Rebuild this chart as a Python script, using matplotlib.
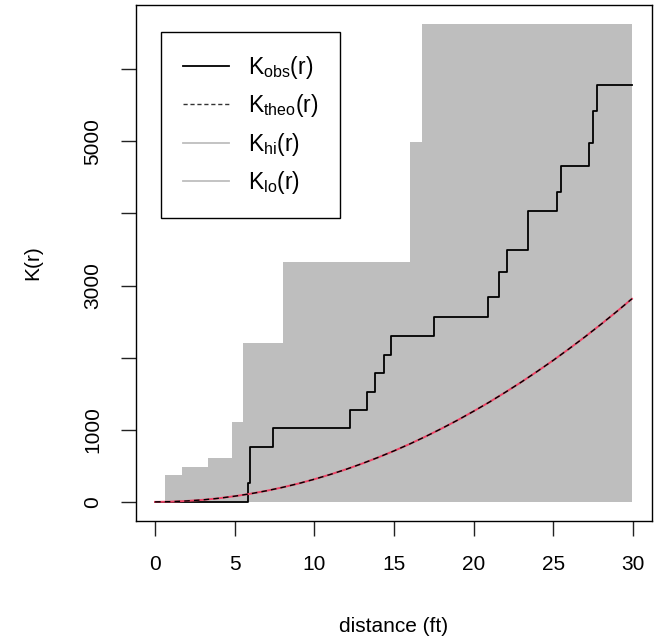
import matplotlib
matplotlib.use("Agg")
import matplotlib.pyplot as plt
from matplotlib.lines import Line2D

plt.rcParams['font.family'] = ['Liberation Sans', 'DejaVu Sans']
plt.rcParams['mathtext.fontset'] = 'custom'
plt.rcParams['mathtext.rm'] = 'Liberation Sans'
plt.rcParams['mathtext.it'] = 'Liberation Sans:italic'

# observed K function (step function, value after each jump)
obs_r = [0, 5.84, 5.96, 7.41, 12.24, 13.31, 13.81, 14.38, 14.81, 17.51,
         20.9, 21.6, 22.1, 23.4, 25.24, 25.49, 27.24, 27.5, 27.75, 29.94]
obs_K = [0, 264, 764, 1020, 1270, 1528, 1792, 2035, 2306, 2569,
         2847, 3194, 3486, 4028, 4292, 4653, 4972, 5417, 5778, 5778]

# simulation envelope
env_r = [0, 0.63, 1.69, 3.33, 4.83, 5.52, 8.04, 16.0, 16.76, 29.94]
hi_K = [0, 375, 486, 611, 1111, 2208, 3333, 4986, 6625, 6625]
lo_K = [0, 0, 0, 0, 0, 0, 0, 0, 0, 0]

# theoretical K under complete spatial randomness
theo_r = [0, 1, 2, 3, 4, 5, 6, 7, 8, 9, 10, 11, 12, 13, 14, 15, 16, 17, 18, 19,
          20, 21, 22, 23, 24, 25, 26, 27, 28, 29, 29.94]
theo_K = [0, 3, 13, 28, 50, 79, 113, 154, 201, 254, 314, 380, 452, 531, 616, 707,
          804, 908, 1018, 1134, 1257, 1385, 1521, 1662, 1810, 1963, 2124, 2290,
          2463, 2642, 2816]

x_ticks = [0, 5, 10, 15, 20, 25, 30]
y_ticks = [0, 1000, 2000, 3000, 4000, 5000, 6000]
y_tick_labels = ['0', '1000', '', '3000', '', '5000', '']

fig = plt.figure(figsize=(6.56, 6.42), dpi=100)
ax = fig.add_axes([0.2073, 0.1885, 0.7866, 0.8037])

gray = '#bebebe'
ax.fill_between(env_r, lo_K, hi_K, step='post', color=gray, linewidth=0)
ax.step(obs_r, obs_K, where='post', color='black', linewidth=1.3)
ax.plot(theo_r, theo_K, color='#ee4466', linewidth=1.4)
ax.plot(theo_r, theo_K, color='black', linewidth=1.0, linestyle=(0, (4, 3)))

ax.set_xlim(-1.2, 31.2)
ax.set_ylim(-265, 6890)
ax.set_xticks(x_ticks)
ax.set_yticks(y_ticks)
ax.set_yticklabels(y_tick_labels, rotation=90, va='center')
ax.tick_params(labelsize=15, length=10.5, width=1.0, pad=14, color='#222222')
for s in ax.spines.values():
    s.set_linewidth(1.0)

ax.set_xlabel('distance (ft)', fontsize=15, labelpad=31)
ax.set_ylabel('K(r)', fontsize=15, labelpad=29)

handles = [
    Line2D([], [], color='black', linewidth=1.3),
    Line2D([], [], color='#333333', linewidth=1.0, linestyle=(0, (3, 2))),
    Line2D([], [], color=gray, linewidth=1.3),
    Line2D([], [], color=gray, linewidth=1.3),
]
labels = [r'$\mathrm{K_{obs}(r)}$', r'$\mathrm{K_{theo}(r)}$',
          r'$\mathrm{K_{hi}(r)}$', r'$\mathrm{K_{lo}(r)}$']
leg = ax.legend(handles, labels, loc='upper left', bbox_to_anchor=(0.0484, 0.9477),
                borderaxespad=0, fontsize=16.5, fancybox=False, edgecolor='black',
                framealpha=1, handlelength=2.0, handletextpad=0.85,
                borderpad=0.95, labelspacing=0.5)
leg.get_frame().set_linewidth(1.0)

fig.savefig('out.png', dpi=100)
